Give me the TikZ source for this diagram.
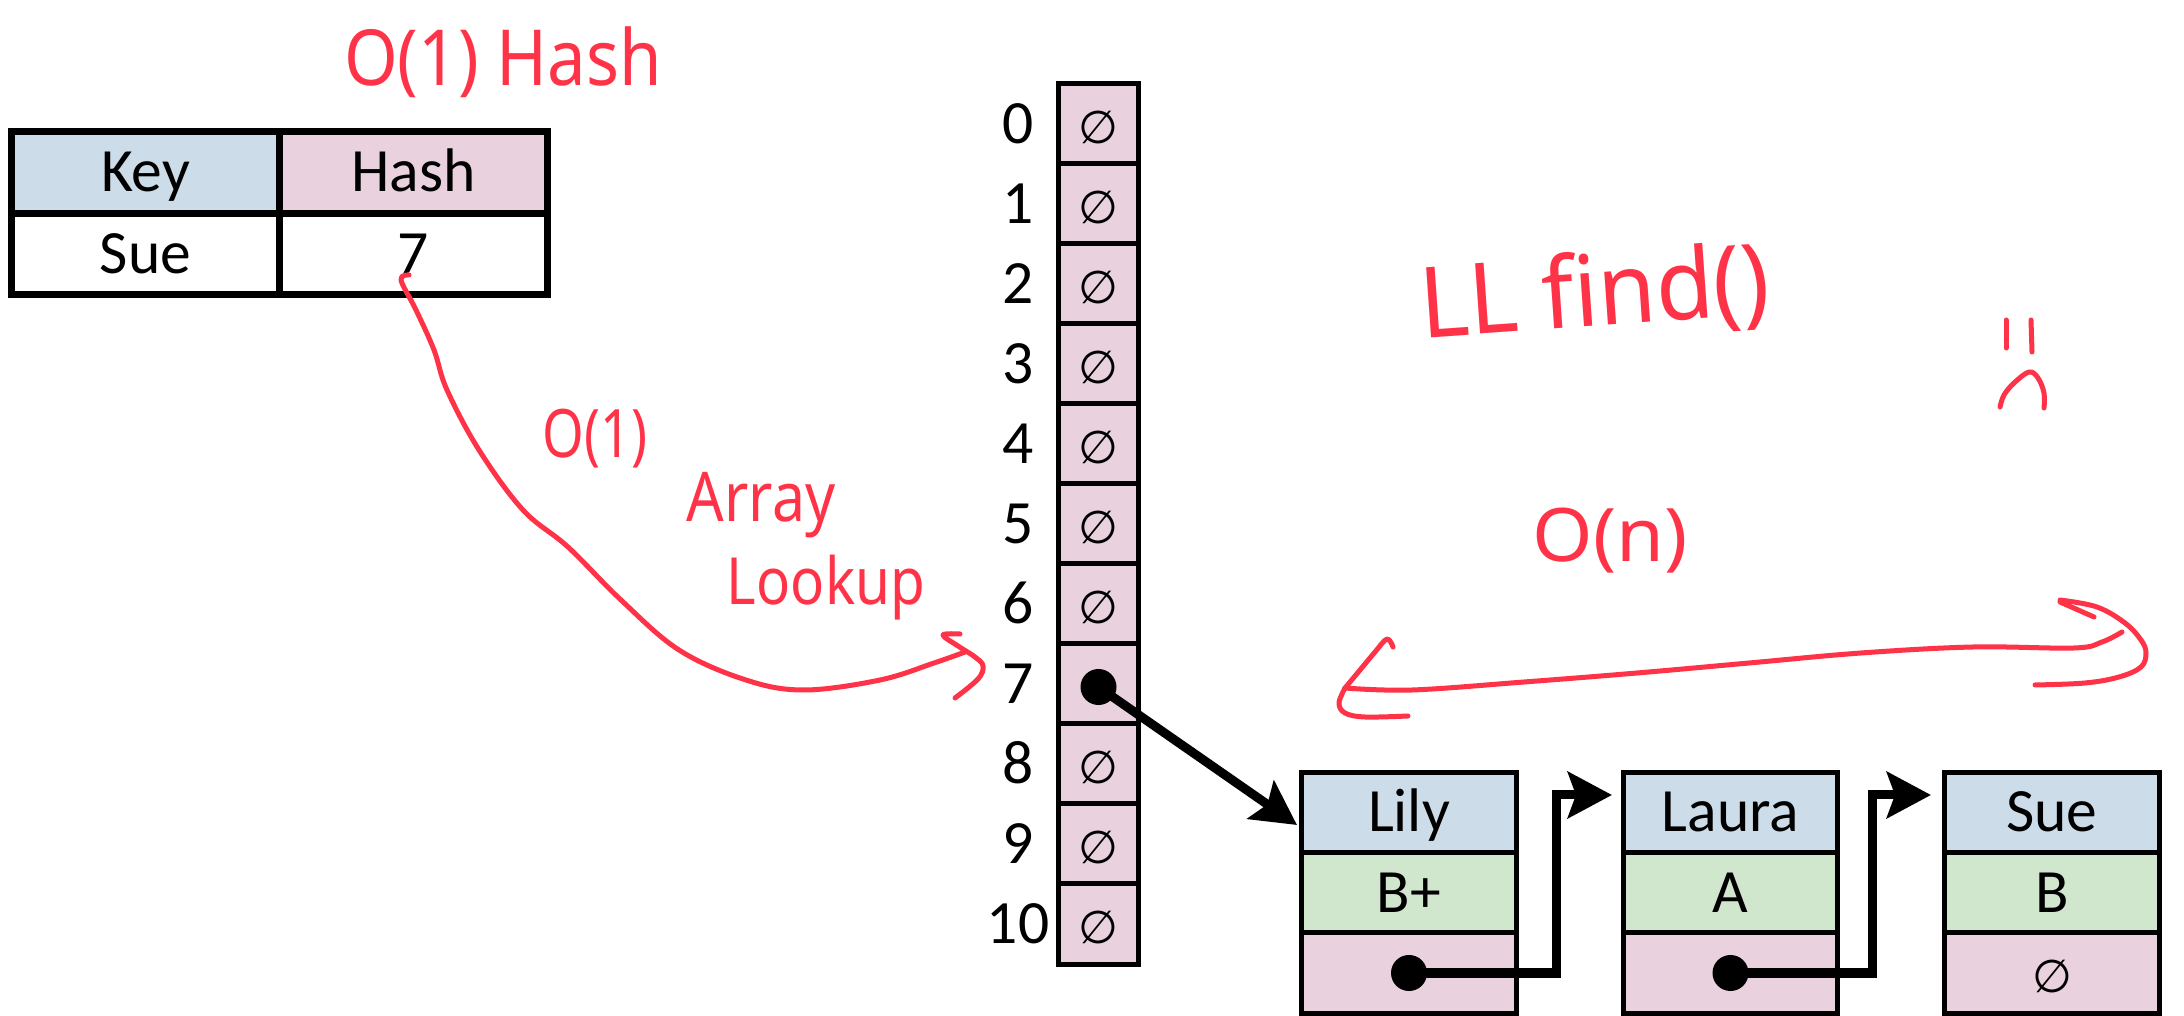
\documentclass[tikz,border=0pt]{standalone}
\usepackage{fontspec}
\setmainfont{Carlito}
\newfontfamily\symfont{DejaVu Sans}
\newfontfamily\handfont{Noto Sans}
\usetikzlibrary{arrows.meta,calc}

\definecolor{keyblue}{RGB}{204,221,233}
\definecolor{cellpink}{RGB}{233,209,222}
\definecolor{valgreen}{RGB}{208,231,206}
\definecolor{ink}{RGB}{255,51,72}

\newcommand\emptymark{{\symfont\fontsize{13}{13}\selectfont ∅}}

\begin{document}
\begin{tikzpicture}[x=0.01cm,y=-0.01cm,
  lbl/.style={font=\fontsize{17.5}{20}\selectfont, text height=13pt, text depth=2pt},
  tcell/.style={lbl, draw=black, line width=0.07cm, inner sep=0pt, outer sep=0pt,
    minimum width=2.68cm, minimum height=0.815cm},
  slot/.style={lbl, draw=black, line width=0.05cm, inner sep=0pt, outer sep=0pt,
    minimum width=0.79cm, minimum height=0.80cm, fill=cellpink},
  idx/.style={lbl, inner sep=0pt},
  row/.style={lbl, draw=black, line width=0.05cm, inner sep=0pt, outer sep=0pt,
    minimum width=2.14cm, minimum height=0.805cm},
  dot/.style={circle, fill=black, inner sep=0pt, minimum size=0.36cm},
  link/.style={draw=black, line width=0.09cm, line join=miter,
    -{Stealth[length=0.44cm, width=0.46cm, inset=0.08cm]}},
  hand/.style={draw=ink, line width=0.05cm, line cap=round, line join=round},
  note/.style={text=ink, inner sep=0pt, anchor=base},
]
\useasboundingbox (0,0) rectangle (2184,1016);

% key / hash table
\node[tcell, fill=keyblue]  (keyhead) at (145.5,172.5) {Key};
\node[tcell, fill=cellpink] (hashhead) at (413.5,172.5) {Hash};
\node[tcell, fill=white]    (keyval)  at (145.5,254) {Sue};
\node[tcell, fill=white]    (hashval) at (413.5,254) {7};

% bucket array with indices
\foreach \i in {0,...,10} {
  \node[slot] (s\i) at (1098.5,{124+80*\i}) {\ifnum\i=7 \else\emptymark\fi};
  \node[idx]  (i\i) at (1018,{124+80*\i}) {\i};
}

% chained list nodes
\node[row, fill=keyblue]  (l1k) at (1409,812.5) {Lily};
\node[row, fill=valgreen] (l1v) at (1409,893)   {B+};
\node[row, fill=cellpink] (l1p) at (1409,973)   {};
\node[row, fill=keyblue]  (l2k) at (1730.5,812.5) {Laura};
\node[row, fill=valgreen] (l2v) at (1730.5,893)   {A};
\node[row, fill=cellpink] (l2p) at (1730.5,973)   {};
\node[row, fill=keyblue]  (l3k) at (2052,812.5) {Sue};
\node[row, fill=valgreen] (l3v) at (2052,893)   {B};
\node[row, fill=cellpink] (l3p) at (2052,973)   {\emptymark};

% pointers
\coordinate (t0) at (1297,825);
\coordinate (b1) at (1556,795);
\coordinate (t1) at (1612,795);
\coordinate (b2) at (1872,795);
\coordinate (t2) at (1931,795);
\node[dot] (d7) at ($(s7.center)+(0,3)$) {};
\node[dot] (d1) at (l1p.center) {};
\node[dot] (d2) at (l2p.center) {};
\draw[link] (d7.center) -- (t0);
\draw[link] (d1.center) -| (b1) -- (t1);
\draw[link] (d2.center) -| (b2) -- (t2);

% handwritten notes
\node[note, font=\handfont\fontsize{22}{22}\selectfont] (n1) at (503,86) {\scalebox{0.89}[1]{O(1) Hash}};
\node[note, font=\handfont\fontsize{19}{19}\selectfont] (n2) at (595,458) {\scalebox{0.8}[1]{O(1)}};
\node[note, font=\handfont\fontsize{19.5}{19.5}\selectfont] (n3) at (761,522) {\scalebox{0.86}[1]{Array}};
\node[note, font=\handfont\fontsize{18.5}{18.5}\selectfont] (n4) at (826,605) {\scalebox{0.87}[1]{Lookup}};
\node[note, font=\handfont\fontsize{28}{28}\selectfont, rotate=4] (n5) at (1597,326) {\scalebox{0.95}[1]{LL find()}};
\node[note, font=\handfont\fontsize{21}{21}\selectfont] (n6) at (1610,562) {\scalebox{1.05}[1]{O(n)}};

% curve from the hash value to bucket 7
\coordinate (c0) at (409,275);
\coordinate (c1) at (965,652);
\draw[hand] plot[smooth, tension=0.6] coordinates {(c0) (401,280) (416,310) (434,350) (447,390)
  (479,450) (523,510) (568,547) (621,600) (679,650) (746,680) (804,690) (880,680) (934,663) (c1)};
\draw[hand] plot[smooth, tension=0.6] coordinates {(960,634) (943,635) (958,646) (975,657)
  (983,666) (978,679) (955,698)};

% traversal arrow under the comment
\coordinate (r0) at (1345,688);
\coordinate (r1) at (2122,632);
\draw[hand] plot[smooth, tension=0.6] coordinates {(r0) (1412,690) (1524,682) (1637,673)
  (1749,663) (1861,653) (1973,647) (2074,648) (2102,642) (r1)};
\draw[hand] plot[smooth, tension=0.6] coordinates {(1393,647) (1387,639) (1375,652) (1360,670) (r0)};
\draw[hand] plot[smooth, tension=0.6] coordinates {(r0) (1339,703) (1345,713) (1365,717) (1408,716)};
\draw[hand] (2060,602) -- (2094,617);
\draw[hand] plot[smooth, tension=0.6] coordinates {(2060,600) (2097,607) (2125,623) (2141,640)
  (2146,653) (2141,667) (2119,677) (2085,683) (2035,685)};

% frowning face
\draw[hand] (2006,320) -- (2006,348);
\draw[hand] (2031,320) -- (2032,352);
\draw[hand] plot[smooth, tension=0.6] coordinates {(2000,407) (2004,395) (2014,383) (2029,372)
  (2038,378) (2044,393) (2044,408)};
\end{tikzpicture}
\end{document}
